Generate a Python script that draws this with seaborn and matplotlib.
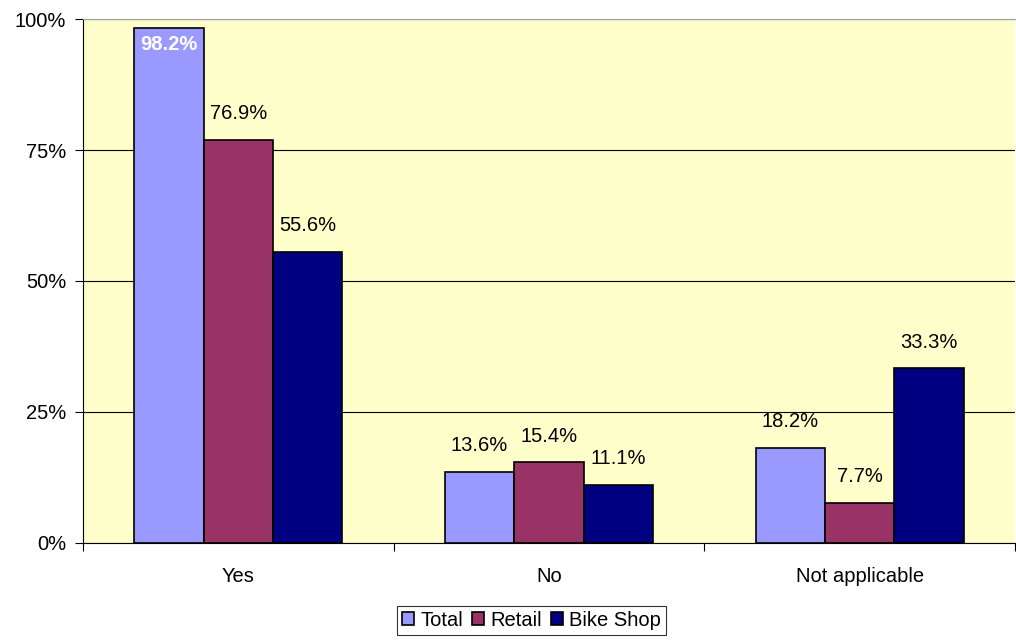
import matplotlib
matplotlib.use("Agg")
import matplotlib.pyplot as plt
import seaborn as sns
import pandas as pd
from matplotlib.ticker import FixedLocator, MultipleLocator, PercentFormatter

categories = ["Yes", "No", "Not applicable"]
series = ["Total", "Retail", "Bike Shop"]
total = [98.2, 13.6, 18.2]
retail = [76.9, 15.4, 7.7]
bike_shop = [55.6, 11.1, 33.3]
colors = ["#9999FF", "#993366", "#000080"]

rows = []
for s, vals in zip(series, [total, retail, bike_shop]):
    for c, v in zip(categories, vals):
        rows.append({"Category": c, "Series": s, "Value": v})
df = pd.DataFrame(rows)

sns.set_theme(style="white")
plt.rcParams["font.family"] = ["Liberation Sans", "DejaVu Sans"]
plt.rcParams["text.color"] = "black"
plt.rcParams["xtick.color"] = "black"
plt.rcParams["ytick.color"] = "black"
plt.rcParams["xtick.labelcolor"] = "black"
plt.rcParams["ytick.labelcolor"] = "black"

FS = 14.5

fig = plt.figure(figsize=(10.16, 6.4), dpi=100)
ax = fig.add_axes([0.0817, 0.1516, 0.9173, 0.8187])
ax.set_facecolor("#FFFFCC")

sns.barplot(data=df, x="Category", y="Value", hue="Series", order=categories,
            hue_order=series, palette=colors, width=0.67, edgecolor="black",
            linewidth=1.2, saturation=1, ax=ax, legend=True, zorder=3)

ax.set_ylim(0, 100)
ax.set_xlim(-0.5, 2.5)
ax.yaxis.set_major_locator(MultipleLocator(25))
ax.yaxis.set_major_formatter(PercentFormatter(decimals=0))
ax.grid(axis="y", color="black", linewidth=0.8, zorder=0)
ax.set_axisbelow(True)
ax.set_xlabel("")
ax.set_ylabel("")

ax.set_xticks([0, 1, 2])
ax.set_xticklabels(categories)
ax.xaxis.set_minor_locator(FixedLocator([-0.5, 0.5, 1.5, 2.5]))
ax.tick_params(axis="x", which="major", length=0, pad=17, labelsize=FS, labelcolor="black")
ax.tick_params(axis="x", which="minor", length=6, width=0.8, color="black", direction="out", bottom=True)
ax.tick_params(axis="y", length=6, width=0.8, color="black", direction="out", left=True,
               labelsize=FS, pad=6, labelcolor="black")

for side in ["left", "bottom"]:
    ax.spines[side].set_color("black")
    ax.spines[side].set_linewidth(0.8)
ax.spines["top"].set_color("#a0a0a0")
ax.spines["top"].set_linewidth(0.8)
ax.spines["right"].set_visible(False)

for container, s in zip(ax.containers, series):
    for bar, v in zip(container, df[df.Series == s].Value):
        x = bar.get_x() + bar.get_width() / 2
        h = bar.get_height()
        if h > 95:
            ax.annotate(f"{v:.1f}%", (x, h), xytext=(0, -5), textcoords="offset points",
                        ha="center", va="top", color="white", fontsize=FS, fontweight="bold", zorder=5)
        else:
            ax.annotate(f"{v:.1f}%", (x, h), xytext=(0, 12), textcoords="offset points",
                        ha="center", va="bottom", color="black", fontsize=FS, zorder=5)

handles, labels = ax.get_legend_handles_labels()
ax.get_legend().remove()
leg = fig.legend(handles, labels, loc="lower center", bbox_to_anchor=(0.523, 0.0), ncol=3,
                 frameon=True, fancybox=False, edgecolor="black", fontsize=FS,
                 handlelength=0.6, handleheight=0.6, handletextpad=0.3, columnspacing=0.45,
                 borderpad=0.25, borderaxespad=0.25)
leg.get_frame().set_linewidth(0.8)

fig.savefig("out.png", dpi=100, facecolor="white")
